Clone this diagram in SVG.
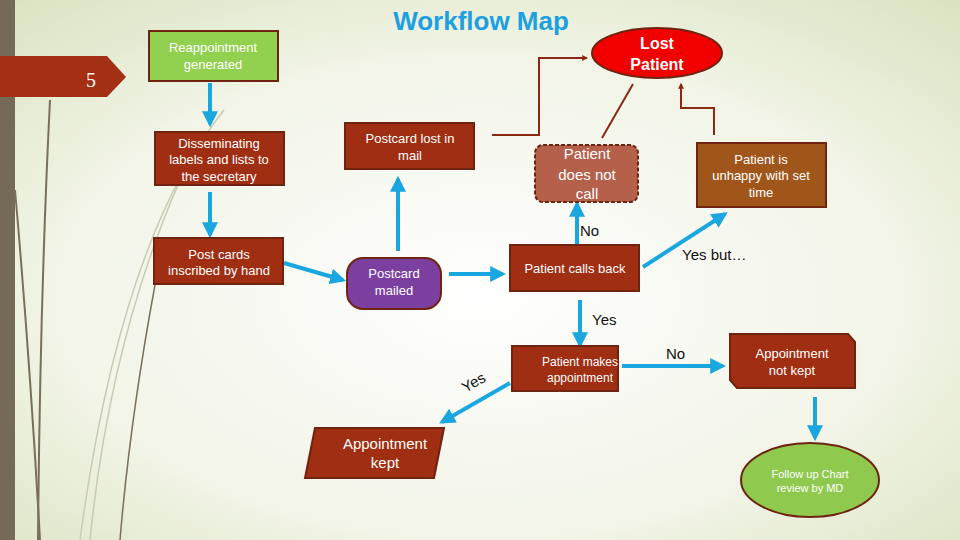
<svg xmlns="http://www.w3.org/2000/svg" width="960" height="540" viewBox="0 0 960 540">
<defs>
<radialGradient id="bg" cx="0.5" cy="0.55" r="0.75">
<stop offset="0" stop-color="#ffffff"/><stop offset="0.6" stop-color="#f1f4e6"/><stop offset="1" stop-color="#d9e2bf"/>
</radialGradient>
<marker id="ba" viewBox="0 0 10 10" refX="8" refY="5" markerWidth="4" markerHeight="4" orient="auto"><path d="M0,0 L10,5 L0,10 z" fill="#1aa7df"/></marker>
<marker id="ra" viewBox="0 0 10 10" refX="8" refY="5" markerWidth="3" markerHeight="3" orient="auto"><path d="M0,0 L10,5 L0,10 z" fill="#8b2a12"/></marker>
</defs>
<style>
.box{stroke:#6e2410;stroke-width:2}
.t{font-family:"Liberation Sans",Arial,sans-serif;fill:#fff;text-anchor:middle}
.k{font-family:"Liberation Sans",Arial,sans-serif;fill:#111;font-size:15px}
.bl{stroke:#1aa7df;stroke-width:4;fill:none;marker-end:url(#ba)}
.rl{stroke:#8b2a12;stroke-width:2;fill:none}
</style>
<rect width="960" height="540" fill="url(#bg)"/>
<rect x="0" y="0" width="15" height="540" fill="#756a57"/>
<g fill="none" stroke="#7a6f5a" stroke-width="2">
<path d="M50,100 Q40,300 38,540"/><path d="M15,190 Q30,360 40,540"/>
<path d="M155,285 Q130,420 120,540" stroke-width="1.5"/>
</g>
<g fill="none" stroke="#c9cbb5" stroke-width="1.5">
<path d="M224,110 Q120,240 80,540"/><path d="M180,180 Q110,340 90,540"/>
</g>
<text x="481" y="30" font-family="Liberation Sans,Arial,sans-serif" font-weight="bold" font-size="26" fill="#1ba1e2" text-anchor="middle">Workflow Map</text>
<g id="tab"><polygon points="0,56 107,56 126,77 107,97 0,97" fill="#a33014"/><text x="91" y="87" font-family="Liberation Serif,serif" font-size="20" fill="#fff" text-anchor="middle">5</text></g>
<g id="connectors">
<line class="bl" x1="210" y1="83" x2="210" y2="124"/>
<line class="bl" x1="210" y1="192" x2="210" y2="235"/>
<line class="bl" x1="284" y1="263" x2="343" y2="280"/>
<line class="bl" x1="398" y1="251" x2="398" y2="179"/>
<line class="bl" x1="449" y1="274" x2="503" y2="274"/>
<line class="bl" x1="577" y1="247" x2="577" y2="204"/>
<line class="bl" x1="643" y1="267" x2="725" y2="214"/>
<line class="bl" x1="580" y1="300" x2="580" y2="345"/>
<line class="bl" x1="622" y1="366" x2="723" y2="366"/>
<line class="bl" x1="510" y1="383" x2="442" y2="422"/>
<line class="bl" x1="815" y1="397" x2="815" y2="438"/>
<polyline class="rl" points="492,135 539,135 539,58 587,58" marker-end="url(#ra)"/>
<line class="rl" x1="602" y1="138" x2="633" y2="84"/>
<polyline class="rl" points="714,135 714,108 681,108 681,84" marker-end="url(#ra)"/>
<text class="k" x="580" y="236">No</text>
<text class="k" x="682" y="260">Yes but…</text>
<text class="k" x="592" y="325">Yes</text>
<text class="k" x="666" y="359">No</text>
<text class="k" x="460" y="388" transform="rotate(-30 472 380)">Yes</text>
</g>
<g id="n1"><rect class="box" x="149" y="31" width="129" height="50" fill="#92d050"/><text class="t" font-size="13"><tspan x="213" y="52">Reappointment</tspan><tspan x="213" y="69">generated</tspan></text></g>
<g id="n2"><rect class="box" x="155" y="132" width="129" height="53" fill="#a02e12"/><text class="t" font-size="13"><tspan x="219" y="148">Disseminating</tspan><tspan x="219" y="164">labels and lists to</tspan><tspan x="219" y="181">the secretary</tspan></text></g>
<g id="n3"><rect class="box" x="154" y="238" width="129" height="46" fill="#a02e12"/><text class="t" font-size="13"><tspan x="219" y="259">Post cards</tspan><tspan x="219" y="275">inscribed by hand</tspan></text></g>
<g id="n4"><rect class="box" x="345" y="123" width="129" height="46" fill="#a02e12"/><text class="t" font-size="13"><tspan x="410" y="143">Postcard lost in</tspan><tspan x="410" y="160">mail</tspan></text></g>
<g id="n5"><rect class="box" x="347" y="258" width="94" height="51" rx="16" fill="#7b3fa0"/><text class="t" font-size="13"><tspan x="394" y="278">Postcard</tspan><tspan x="394" y="295">mailed</tspan></text></g>
<g id="n6"><rect x="535" y="145" width="103" height="57" rx="8" fill="#b5604a" stroke="#6e2410" stroke-width="2" stroke-dasharray="4,2"/><text class="t" font-size="15"><tspan x="587" y="159">Patient</tspan><tspan x="587" y="180">does not</tspan><tspan x="587" y="199">call</tspan></text></g>
<g id="n7"><ellipse class="box" cx="657" cy="53" rx="65" ry="25" fill="#f20000"/><text class="t" font-size="16" font-weight="bold"><tspan x="657" y="49">Lost</tspan><tspan x="657" y="70">Patient</tspan></text></g>
<g id="n8"><rect class="box" x="697" y="143" width="129" height="64" fill="#a0561b"/><text class="t" font-size="13"><tspan x="761" y="164">Patient is</tspan><tspan x="761" y="180">unhappy with set</tspan><tspan x="761" y="197">time</tspan></text></g>
<g id="n9"><rect class="box" x="510" y="245" width="129" height="46" fill="#a02e12"/><text class="t" font-size="13" x="575" y="273">Patient calls back</text></g>
<g id="n10"><rect class="box" x="512" y="346" width="106" height="45" fill="#a02e12"/><text class="t" font-size="12"><tspan x="580" y="366">Patient makes</tspan><tspan x="580" y="382">appointment</tspan></text></g>
<g id="n11"><polygon class="box" points="730,334 848,334 855,342 855,388 737,388 730,380" fill="#a02e12"/><text class="t" font-size="13"><tspan x="792" y="358">Appointment</tspan><tspan x="792" y="375">not kept</tspan></text></g>
<g id="n12"><polygon class="box" points="315,428 444,428 434,478 305,478" fill="#a02e12"/><text class="t" font-size="15"><tspan x="385" y="449">Appointment</tspan><tspan x="385" y="468">kept</tspan></text></g>
<g id="n13"><ellipse class="box" cx="810" cy="480" rx="69" ry="37" fill="#8fc94e"/><text class="t" font-size="11"><tspan x="810" y="478">Follow up Chart</tspan><tspan x="810" y="492">review by MD</tspan></text></g>
</svg>
